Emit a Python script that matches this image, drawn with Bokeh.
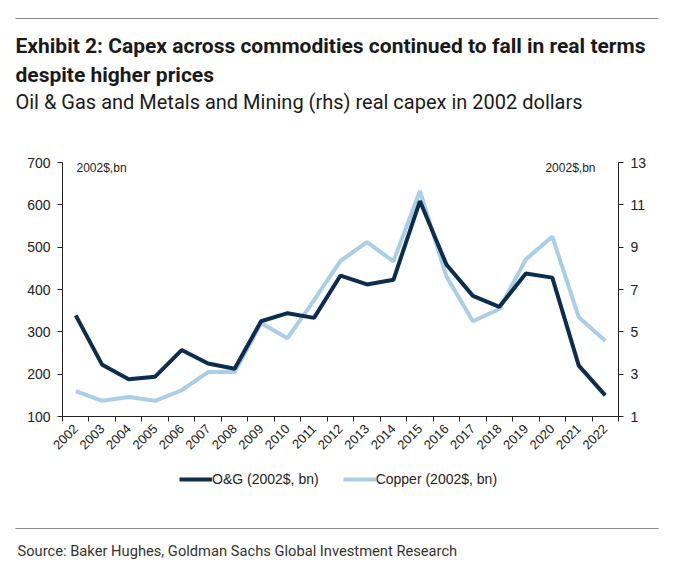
from bokeh.plotting import figure
from bokeh.layouts import column, row
from bokeh.models import (Range1d, LinearAxis, FixedTicker, Label, Legend, LegendItem)
from bokeh.embed import file_html
from bokeh.resources import INLINE
import math

years = list(range(2002, 2023))
oil_gas = [339, 222, 188, 194, 257, 225, 213, 325, 344, 333, 433,
           412, 423, 609, 459, 385, 359, 438, 428, 220, 150]
copper = [2.2, 1.74, 1.92, 1.74, 2.24, 3.1, 3.1, 5.4, 4.7, 6.5, 8.35,
          9.24, 8.33, 11.66, 7.62, 5.5, 6.08, 8.42, 9.5, 5.69, 4.58]
left_ticks = [100, 200, 300, 400, 500, 600, 700]
right_ticks = [1, 3, 5, 7, 9, 11, 13]

title_lines = ["Exhibit 2: Capex across commodities continued to fall in real terms",
               "despite higher prices"]
subtitle = "Oil & Gas and Metals and Mining (rhs) real capex in 2002 dollars"
source = "Source: Baker Hughes, Goldman Sachs Global Investment Research"
unit_label = "2002$,bn"
series_names = ["O&G (2002$, bn)", "Copper (2002$, bn)"]

DARK = "#0c2d4e"
LIGHT = "#a9cfe8"
HEAD = "Roboto"
SANS = "Liberation Sans"
RULE = "#8a8a8a"

W = 673
TOP_H, MAIN_H, BOT_H = 148, 317, 102
FL, FR, FT, FB = 62, 618, 162, 416  # frame edges in page px


def blank_fig(h, y0):
    f = figure(width=W, height=h, output_backend="svg", toolbar_location=None,
               x_range=Range1d(0, W), y_range=Range1d(y0 + h, y0),
               min_border=0, min_border_left=0, min_border_right=0,
               min_border_top=0, min_border_bottom=0,
               x_axis_location=None, y_axis_location=None)
    f.outline_line_color = None
    f.xgrid.visible = False
    f.ygrid.visible = False
    f.background_fill_color = "white"
    f.border_fill_color = "white"
    return f


def add_text(f, txt, x, y, size, font, bold=False, align="left", color="#222222"):
    f.add_layout(Label(x=x, y=y, text=txt, text_font=font, text_font_size=size,
                       text_font_style="bold" if bold else "normal",
                       text_align=align, text_baseline="middle", text_color=color))


# ---------- top: rule, title, subtitle ----------
top = blank_fig(TOP_H, 0)
top.segment(x0=[15], y0=[18], x1=[658], y1=[18], line_color=RULE, line_width=1.2)
add_text(top, title_lines[0], 15, 45, "21px", HEAD, bold=True, color="#1a1a1a")
add_text(top, title_lines[1], 15, 74, "21px", HEAD, bold=True, color="#1a1a1a")
add_text(top, subtitle, 15, 101, "20px", HEAD, color="#1a1a1a")

# ---------- main chart ----------
p = figure(width=W, height=MAIN_H, output_backend="svg", toolbar_location=None,
           x_range=Range1d(years[0] - 0.5, years[-1] + 0.5),
           y_range=Range1d(left_ticks[0], left_ticks[-1]),
           min_border_left=FL, min_border_right=W - FR,
           min_border_top=FT - TOP_H, min_border_bottom=TOP_H + MAIN_H - FB,
           x_axis_location=None, y_axis_location=None)
p.outline_line_color = None
p.xgrid.visible = False
p.ygrid.visible = False
p.background_fill_color = "white"
p.border_fill_color = "white"
p.extra_y_ranges = {"right": Range1d(right_ticks[0], right_ticks[-1])}

xax = LinearAxis(ticker=FixedTicker(ticks=years,
                                    minor_ticks=[y - 0.5 for y in years] + [years[-1] + 0.5]))
xax.major_tick_out = 0
xax.major_tick_in = 0
xax.minor_tick_out = 5
xax.minor_tick_in = 0
xax.minor_tick_line_color = "#222222"
xax.axis_line_color = "#222222"
xax.major_label_orientation = math.pi / 4
xax.major_label_text_font = SANS
xax.major_label_text_font_size = "13px"
xax.major_label_text_color = "#222222"
xax.major_label_standoff = 5
p.add_layout(xax, "below")

for ax, side in ((LinearAxis(ticker=FixedTicker(ticks=left_ticks)), "left"),
                 (LinearAxis(y_range_name="right", ticker=FixedTicker(ticks=right_ticks)), "right")):
    ax.major_tick_out = 5
    ax.major_tick_in = 0
    ax.minor_tick_out = 0
    ax.minor_tick_in = 0
    ax.axis_line_color = "#222222"
    ax.major_tick_line_color = "#222222"
    ax.major_label_text_font = SANS
    ax.major_label_text_font_size = "14px"
    ax.major_label_text_color = "#222222"
    ax.major_label_standoff = 7
    p.add_layout(ax, side)

p.line(years, copper, y_range_name="right", line_color=LIGHT, line_width=4)
p.line(years, oil_gas, line_color=DARK, line_width=4)

for x, align in ((76, "left"), (595, "right")):
    p.add_layout(Label(x=x - FL, y=FB - 167, x_units="screen", y_units="screen",
                       text=unit_label, text_font=SANS, text_font_size="12px",
                       text_align=align, text_baseline="middle", text_color="#222222"))

# ---------- bottom: legend, rule, source ----------
Y0 = TOP_H + MAIN_H
bot = blank_fig(BOT_H, Y0)
lg_og = bot.line(years, oil_gas, line_color=DARK, line_width=4, visible=False)
lg_cu = bot.line(years, copper, line_color=LIGHT, line_width=4, visible=False)
legend = Legend(items=[LegendItem(label=series_names[0], renderers=[lg_og]),
                       LegendItem(label=series_names[1], renderers=[lg_cu])],
                orientation="horizontal", location=(179, Y0 + BOT_H - 489),
                glyph_width=33, glyph_height=20, label_standoff=0, spacing=24,
                padding=0, margin=0, border_line_color=None,
                background_fill_alpha=0, click_policy="none",
                label_text_font=SANS, label_text_font_size="14px",
                label_text_color="#222222", label_height=20)
bot.add_layout(legend, "center")
bot.segment(x0=[15], y0=[528], x1=[658], y1=[528], line_color=RULE, line_width=1.2)
add_text(bot, source, 17, 550, "14.7px", HEAD, color="#333333")

layout = column(row(top), p, row(bot), spacing=0)
open("out.html", "w").write(file_html(layout, INLINE))
